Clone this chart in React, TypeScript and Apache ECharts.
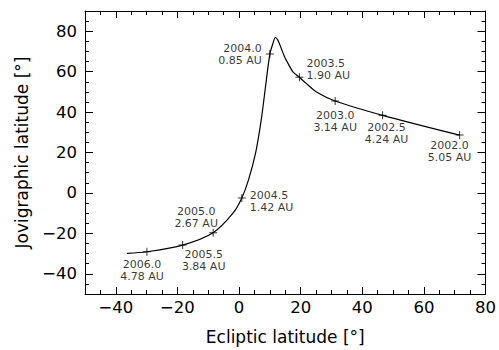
import React, { useEffect, useRef } from "react";
import * as echarts from "echarts";

// Curve (ecliptic latitude vs jovigraphic latitude)
const curveX = [-36.4, -29.9, -18.3, -8.4, -1.9, 0.9, 3.1, 5.4, 7.2, 8.6, 10.0, 11.0, 11.8, 12.6, 13.7, 14.8, 15.9, 17.5, 19.6, 21.8, 25.0, 31.2, 46.6, 71.6];
const curveY = [-29.9, -29.1, -25.8, -19.7, -9.9, -2.5, 6.6, 19.9, 36.1, 52.6, 68.7, 73.9, 76.9, 75.6, 71.5, 67.3, 64.1, 59.9, 57.2, 54.2, 50.1, 45.5, 38.4, 28.6];

// Marked epochs
const years = ["2002.0", "2002.5", "2003.0", "2003.5", "2004.0", "2004.5", "2005.0", "2005.5", "2006.0"];
const distancesAU = ["5.05", "4.24", "3.14", "1.90", "0.85", "1.42", "2.67", "3.84", "4.78"];
const markerX = [71.6, 46.6, 31.2, 19.6, 10.0, 0.9, -8.4, -18.3, -29.9];
const markerY = [28.6, 38.4, 45.5, 57.2, 68.7, -2.5, -19.7, -25.8, -29.1];

// Axis ticks
const xTicks = [-40, -20, 0, 20, 40, 60, 80];
const yTicks = [-40, -20, 0, 20, 40, 60, 80];

// Label placement (style, not data)
const labelLayout: { align: "left" | "center" | "right"; offset: [number, number] }[] = [
  { align: "center", offset: [-10, 16] },
  { align: "center", offset: [4, 18.5] },
  { align: "center", offset: [0, 21] },
  { align: "left", offset: [7, -8] },
  { align: "right", offset: [-8, 0] },
  { align: "left", offset: [8, 4] },
  { align: "center", offset: [-17, -15.5] },
  { align: "center", offset: [21, 15.5] },
  { align: "center", offset: [-5, 19] },
];

const FONT = "DejaVu Sans";
const black = "#000";
const fmtNum = (v: number) => (v < 0 ? "\u2212" + Math.abs(v) : String(v));

export default function App() {
  const ref = useRef<HTMLDivElement>(null);
  useEffect(() => {
    if (!ref.current) return;
    const chart = echarts.init(ref.current, null, { renderer: "svg" });

    const lineStyle = { color: black, width: 1 };
    const minorX = (position: "bottom" | "top", showLine: boolean) => ({
      type: "value" as const,
      position,
      min: -50,
      max: 80,
      interval: 5,
      axisLine: { show: showLine, onZero: false, lineStyle },
      axisTick: { show: true, inside: true, length: 4, lineStyle },
      axisLabel: { show: false },
      splitLine: { show: false },
    });
    const majorX = (position: "bottom" | "top", labels: boolean) => ({
      type: "value" as const,
      position,
      min: -50,
      max: 80,
      axisLine: { show: false, onZero: false },
      axisTick: { show: true, inside: true, length: 7, customValues: xTicks, lineStyle },
      axisLabel: {
        show: labels,
        customValues: xTicks,
        formatter: (v: number) => fmtNum(v),
        fontFamily: FONT,
        fontSize: 16.5,
        color: black,
        margin: 5,
      },
      splitLine: { show: false },
      ...(labels
        ? {
            name: "Ecliptic latitude [°]",
            nameLocation: "middle" as const,
            nameGap: 34,
            nameTextStyle: { fontFamily: FONT, fontSize: 17, color: black },
          }
        : {}),
    });
    const minorY = (position: "left" | "right", showLine: boolean) => ({
      type: "value" as const,
      position,
      min: -50,
      max: 90,
      interval: 5,
      axisLine: { show: showLine, onZero: false, lineStyle },
      axisTick: { show: true, inside: true, length: 4, lineStyle },
      axisLabel: { show: false },
      splitLine: { show: false },
    });
    const majorY = (position: "left" | "right", labels: boolean) => ({
      type: "value" as const,
      position,
      min: -50,
      max: 90,
      axisLine: { show: false, onZero: false },
      axisTick: { show: true, inside: true, length: 8, customValues: yTicks, lineStyle },
      axisLabel: {
        show: labels,
        customValues: yTicks,
        formatter: (v: number) => fmtNum(v),
        fontFamily: FONT,
        fontSize: 16.5,
        color: black,
        margin: 8,
      },
      splitLine: { show: false },
      ...(labels
        ? {
            name: "Jovigraphic latitude [°]",
            nameLocation: "middle" as const,
            nameGap: 55,
            nameRotate: 90,
            nameTextStyle: { fontFamily: FONT, fontSize: 17, color: black },
          }
        : {}),
    });

    const plus = "path://M3.5,0H4.5V8H3.5Z M0,3.5H8V4.5H0Z";

    chart.setOption({
      animation: false,
      backgroundColor: "#fff",
      grid: { left: 85, top: 11, right: 12, bottom: 55, containLabel: false },
      xAxis: [minorX("bottom", true), majorX("bottom", true), minorX("top", true), majorX("top", false)],
      yAxis: [minorY("left", true), majorY("left", true), minorY("right", true), majorY("right", false)],
      series: [
        {
          type: "line",
          xAxisIndex: 0,
          yAxisIndex: 0,
          data: curveX.map((x, i) => [x, curveY[i]]),
          showSymbol: false,
          smooth: 0.3,
          lineStyle: { color: black, width: 1.2 },
          silent: true,
        },
        {
          type: "scatter",
          xAxisIndex: 0,
          yAxisIndex: 0,
          symbol: plus,
          symbolSize: 8,
          itemStyle: { color: black },
          data: markerX.map((x, i) => ({
            value: [x, markerY[i]],
            label: {
              show: true,
              position: "inside",
              formatter: `${years[i]}\n${distancesAU[i]} AU`,
              align: labelLayout[i].align,
              verticalAlign: "middle",
              offset: labelLayout[i].offset,
              fontFamily: FONT,
              fontSize: 11,
              lineHeight: 12,
              color: black,
            },
          })),
        },
      ],
    });
    return () => chart.dispose();
  }, []);

  return (
    <div
      ref={ref}
      style={{ position: "fixed", left: 0, top: 0, width: 499, height: 350, background: "#fff" }}
    />
  );
}
